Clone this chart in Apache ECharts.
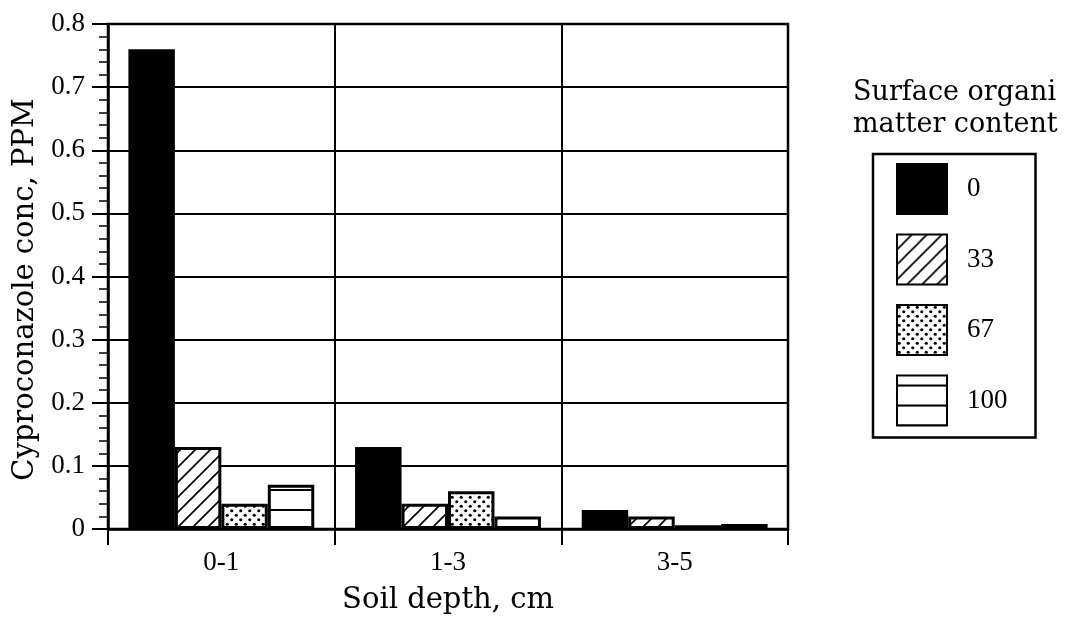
<!DOCTYPE html>
<html>
<head>
<meta charset="utf-8">
<script src="https://cdn.jsdelivr.net/npm/echarts@6/dist/echarts.min.js"></script>
<style>html,body{margin:0;padding:0;background:#fff;}#c{width:1078px;height:624px;}</style>
</head>
<body>
<div id="c"></div>
<script>
// ---- data ----
var categories = ['0-1', '1-3', '3-5'];
var seriesNames = ['0', '33', '67', '100'];
var om0   = [0.76, 0.13, 0.03];
var om33  = [0.13, 0.04, 0.02];
var om67  = [0.04, 0.06, 0.006];
var om100 = [0.07, 0.02, 0.008];
var yTicks = [0, 0.1, 0.2, 0.3, 0.4, 0.5, 0.6, 0.7, 0.8];

// ---- patterns ----
function tile(w, h, draw) {
  var c = document.createElement('canvas');
  c.width = w; c.height = h;
  var g = c.getContext('2d');
  g.fillStyle = '#fff'; g.fillRect(0, 0, w, h);
  g.strokeStyle = '#000'; g.fillStyle = '#000';
  draw(g, w, h);
  return { image: c, repeat: 'repeat' };
}
var hatch = tile(15, 15, function (g, w, h) {
  g.lineWidth = 1.7;
  g.beginPath();
  g.moveTo(-1, h + 1); g.lineTo(w + 1, -1);
  g.moveTo(-1, 1); g.lineTo(1, -1);
  g.moveTo(w - 1, h + 1); g.lineTo(w + 1, h - 1);
  g.stroke();
});
var dots = tile(9, 9, function (g) {
  [[2.25, 2.25], [6.75, 6.75]].forEach(function (p) {
    g.beginPath(); g.arc(p[0], p[1], 1.6, 0, Math.PI * 2); g.fill();
  });
});
var hlines = tile(4, 20, function (g, w) {
  g.lineWidth = 2;
  g.beginPath(); g.moveTo(0, 10); g.lineTo(w, 10); g.stroke();
});

var fills = ['#000', hatch, dots, hlines];
var values = [om0, om33, om67, om100];
var titleFont = 'DejaVu Serif';
var numFont = 'Liberation Serif';

var chart = echarts.init(document.getElementById('c'), null, { renderer: 'canvas' });
chart.setOption({
  animation: false,
  backgroundColor: '#fff',
  title: {
    text: 'Surface organi\nmatter content',
    left: 853, top: 77, padding: 0,
    textStyle: { fontFamily: titleFont, fontSize: 27, fontWeight: 'normal', color: '#000', lineHeight: 32 }
  },
  legend: {
    orient: 'vertical',
    left: 873, top: 154,
    data: seriesNames,
    icon: 'rect',
    itemWidth: 50, itemHeight: 50, itemGap: 18.5,
    padding: [9, 28, 11, 23],
    borderColor: '#000', borderWidth: 2.5,
    selectedMode: false,
    textStyle: { fontFamily: numFont, fontSize: 27, color: '#000', padding: [0, 0, 0, 15] }
  },
  grid: { left: 108, right: 290, top: 24, bottom: 95, show: true, borderColor: '#000', borderWidth: 2.5, containLabel: false },
  xAxis: {
    type: 'category',
    data: categories,
    name: 'Soil depth, cm',
    nameLocation: 'middle',
    nameGap: 57,
    nameTextStyle: { fontFamily: titleFont, fontSize: 29, color: '#000' },
    axisLine: { lineStyle: { color: '#000', width: 2.5 } },
    axisTick: { show: true, length: 16, lineStyle: { color: '#000', width: 2 } },
    axisLabel: { fontFamily: numFont, fontSize: 27, color: '#000', margin: 20 },
    splitLine: { show: true, lineStyle: { color: '#000', width: 2 } }
  },
  yAxis: {
    type: 'value',
    min: yTicks[0], max: yTicks[yTicks.length - 1], interval: 0.1,
    name: 'Cyproconazole conc, PPM',
    nameLocation: 'middle',
    nameGap: 57,
    nameTextStyle: { fontFamily: titleFont, fontSize: 29, color: '#000', padding: [0, 26, 0, 0] },
    axisLine: { show: true, lineStyle: { color: '#000', width: 2.5 } },
    axisTick: { show: true, length: 16, lineStyle: { color: '#000', width: 2 } },
    minorTick: { show: true, splitNumber: 5, length: 9, lineStyle: { color: '#000', width: 1.5 } },
    axisLabel: { fontFamily: numFont, fontSize: 27, color: '#000', margin: 23,
      formatter: function (v) { return v === 0 ? '0' : String(Math.round(v * 10) / 10); } },
    splitLine: { show: true, lineStyle: { color: '#000', width: 2 } }
  },
  series: seriesNames.map(function (n, i) {
    return {
      name: n,
      type: 'bar',
      data: values[i],
      barGap: '0%',
      barCategoryGap: '18%',
      itemStyle: { color: fills[i], borderColor: '#000', borderWidth: 3 },
      emphasis: { disabled: true }
    };
  })
});
</script>
</body>
</html>
